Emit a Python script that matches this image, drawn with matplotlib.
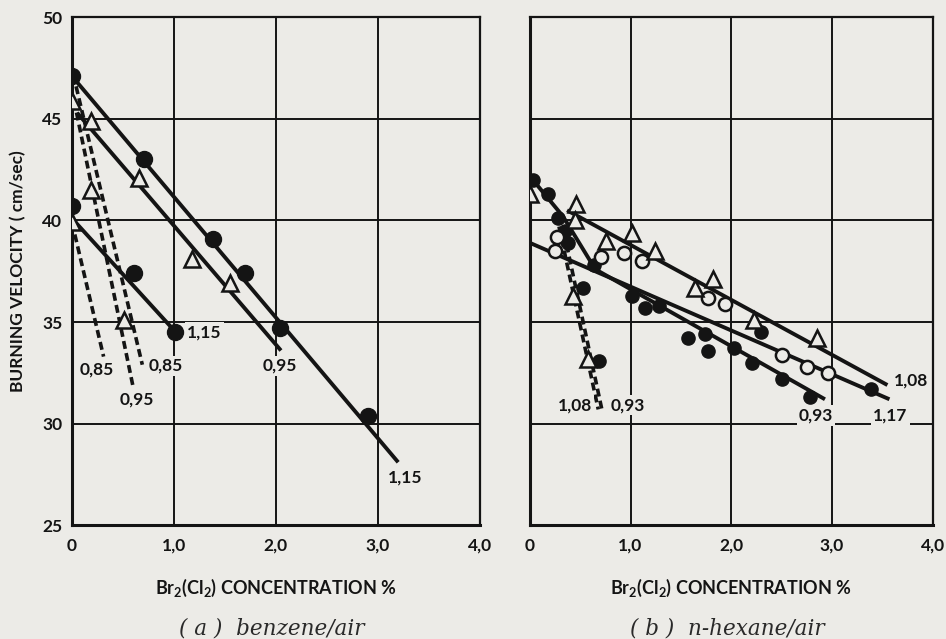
import matplotlib
matplotlib.use("Agg")
import matplotlib.pyplot as plt

# warna kertas dan tinta
BG = "#ecebe7"
INK = "#141414"

plt.rcParams["font.family"] = ["Lato", "DejaVu Sans"]
plt.rcParams["mathtext.default"] = "regular"

# ---------------- (a) benzene/air ----------------
a_c115_x = [0.0, 0.71, 1.38, 1.70, 2.04, 2.90]
a_c115_y = [47.1, 43.0, 39.1, 37.4, 34.7, 30.4]
a_c115_line_x = [0.0, 3.2]
a_c115_line_y = [47.1, 28.1]

a_t095_x = [0.0, 0.19, 0.66, 1.18, 1.55]
a_t095_y = [45.9, 44.9, 42.1, 38.1, 36.9]
a_t095_line_x = [0.05, 2.05]
a_t095_line_y = [45.3, 33.6]

a_c115b_x = [0.0, 0.61, 1.01]
a_c115b_y = [40.7, 37.4, 34.5]
a_t_low_x = [0.0]
a_t_low_y = [39.9]
a_c115b_line_x = [0.0, 1.0]
a_c115b_line_y = [40.1, 34.6]

# garis putus-putus
a_d085a_x = [0.0, 0.31]
a_d085a_y = [39.9, 33.3]
a_d095_x = [0.02, 0.60]
a_d095_y = [45.9, 31.8]
a_d095_tri_x = [0.19, 0.51]
a_d095_tri_y = [41.5, 35.1]
a_d085b_x = [0.04, 0.69]
a_d085b_y = [46.6, 32.9]

a_labels = ["1,15", "0,95", "1,15", "0,85", "0,85", "0,95"]
a_label_x = [1.30, 2.04, 3.27, 0.24, 0.92, 0.64]
a_label_y = [34.5, 32.85, 27.35, 32.65, 32.85, 31.2]

# ---------------- (b) n-hexane/air ----------------
b_c093_x = [0.03, 0.18, 0.28, 0.35, 0.38, 0.64, 1.01, 1.14, 1.28, 1.57, 1.74,
            1.77, 2.03, 2.21, 2.50, 2.78]
b_c093_y = [42.0, 41.3, 40.1, 39.5, 38.9, 37.8, 36.3, 35.7, 35.8, 34.2, 34.4,
            33.6, 33.7, 33.0, 32.2, 31.3]
b_c093_line_x = [0.03, 0.33, 0.65, 2.93]
b_c093_line_y = [42.0, 40.2, 37.6, 31.2]

b_c117_x = [2.30, 3.39]
b_c117_y = [34.5, 31.7]
b_o117_x = [0.27, 0.25, 0.71, 0.94, 1.11, 1.77, 1.94, 2.50, 2.75, 2.96]
b_o117_y = [39.2, 38.5, 38.2, 38.4, 38.0, 36.2, 35.9, 33.4, 32.8, 32.5]
b_117_line_x = [0.0, 3.57]
b_117_line_y = [38.9, 31.2]

b_t108_x = [0.0, 0.46, 0.45, 0.76, 1.01, 1.24, 1.64, 1.82, 2.23, 2.85]
b_t108_y = [41.3, 40.8, 40.0, 39.0, 39.4, 38.5, 36.7, 37.1, 35.1, 34.2]
b_108_line_x = [0.37, 3.55]
b_108_line_y = [40.5, 31.9]

# garis putus-putus
b_d108_x = [0.29, 0.68]
b_d108_y = [39.7, 30.7]
b_d093_x = [0.34, 0.72]
b_d093_y = [39.4, 30.6]
b_dtri_x = [0.43, 0.58]
b_dtri_y = [36.3, 33.2]
b_dcirc_x = [0.53, 0.69]
b_dcirc_y = [36.7, 33.1]

b_labels = ["1,08", "0,93", "1,08", "1,17", "0,93"]
b_label_x = [0.45, 0.97, 3.78, 3.58, 2.84]
b_label_y = [30.9, 30.9, 32.1, 30.4, 30.4]

x_ticks = [0, 1, 2, 3, 4]
x_ticklabels = ["0", "1,0", "2,0", "3,0", "4,0"]
y_ticks = [25, 30, 35, 40, 45, 50]

fig = plt.figure(figsize=(9.46, 6.39), dpi=100, facecolor=BG)
ax1 = fig.add_axes([0.0761, 0.178, 0.431, 0.795])
ax2 = fig.add_axes([0.560, 0.178, 0.426, 0.795])

for ax in (ax1, ax2):
    ax.set_facecolor(BG)
    ax.set_xlim(0, 4)
    ax.set_ylim(25, 50)
    ax.set_xticks(x_ticks)
    ax.set_yticks(y_ticks)
    ax.grid(True, color=INK, lw=1.4)
    ax.set_axisbelow(True)
    for s in ax.spines.values():
        s.set_color(INK)
        s.set_linewidth(1.6)
    ax.spines["left"].set_linewidth(2.2)
    ax.spines["bottom"].set_linewidth(2.2)
    ax.tick_params(length=0, labelsize=12.5, colors=INK)
    ax.tick_params(axis="x", pad=9)
    ax.tick_params(axis="y", pad=7)
    ax.set_xticklabels(x_ticklabels, fontweight="bold")
    ax.set_xlabel("Br$_2$(Cl$_2$) CONCENTRATION %", fontsize=13,
                  fontweight="bold", color=INK, labelpad=17)

ax1.set_yticklabels([str(v) for v in y_ticks], fontweight="bold")
ax2.set_yticklabels([])
ax1.set_ylabel("BURNING VELOCITY ( cm/sec)", fontsize=12.5, fontweight="bold",
               color=INK, labelpad=11)

solid = dict(color=INK, lw=2.8, solid_capstyle="butt", solid_joinstyle="round",
             zorder=3)
dash = dict(color=INK, lw=2.6, ls=(0, (2.2, 1.2)), zorder=3)
circ = dict(ls="none", marker="o", color=INK, zorder=4)
tri = dict(ls="none", marker="^", mfc=BG, mec=INK, mew=1.8, zorder=5)
lbl = dict(fontsize=12.5, fontweight="bold", color=INK, ha="center",
           va="center", zorder=6,
           bbox=dict(facecolor=BG, edgecolor="none", pad=1.5))

# panel a
ax1.plot(a_c115_line_x, a_c115_line_y, **solid)
ax1.plot(a_t095_line_x, a_t095_line_y, **solid)
ax1.plot(a_c115b_line_x, a_c115b_line_y, **solid)
ax1.plot(a_d085a_x, a_d085a_y, **dash)
ax1.plot(a_d095_x, a_d095_y, **dash)
ax1.plot(a_d085b_x, a_d085b_y, **dash)
ax1.plot(a_c115_x, a_c115_y, ms=11.5, **circ)
ax1.plot(a_c115b_x, a_c115b_y, ms=11.5, **circ)
ax1.plot(a_t095_x, a_t095_y, ms=11.5, **tri)
ax1.plot(a_t_low_x, a_t_low_y, ms=11.5, **tri)
ax1.plot(a_d095_tri_x, a_d095_tri_y, ms=11.5, **tri)
for t, x, y in zip(a_labels, a_label_x, a_label_y):
    ax1.text(x, y, t, **lbl)

# panel b
ax2.plot(b_c093_line_x, b_c093_line_y, **solid)
ax2.plot(b_117_line_x, b_117_line_y, **solid)
ax2.plot(b_108_line_x, b_108_line_y, **solid)
ax2.plot(b_d108_x, b_d108_y, **dash)
ax2.plot(b_d093_x, b_d093_y, **dash)
ax2.plot(b_c093_x, b_c093_y, ms=9.5, **circ)
ax2.plot(b_c117_x, b_c117_y, ms=9.5, **circ)
ax2.plot(b_dcirc_x, b_dcirc_y, ms=9.5, **circ)
ax2.plot(b_o117_x, b_o117_y, ls="none", marker="o", ms=9.5, mfc=BG, mec=INK,
         mew=1.8, zorder=5)
ax2.plot(b_t108_x, b_t108_y, ms=11, **tri)
ax2.plot(b_dtri_x, b_dtri_y, ms=11, **tri)
for t, x, y in zip(b_labels, b_label_x, b_label_y):
    ax2.text(x, y, t, **lbl)

fig.text(0.287, 0.017, "( a )  benzene/air", family="DejaVu Serif",
         style="italic", fontsize=15.5, color="#2a2a2a", ha="center",
         va="center")
fig.text(0.769, 0.017, "( b )  n-hexane/air", family="DejaVu Serif",
         style="italic", fontsize=15.5, color="#2a2a2a", ha="center",
         va="center")

fig.savefig("out.png", dpi=100, facecolor=BG)
